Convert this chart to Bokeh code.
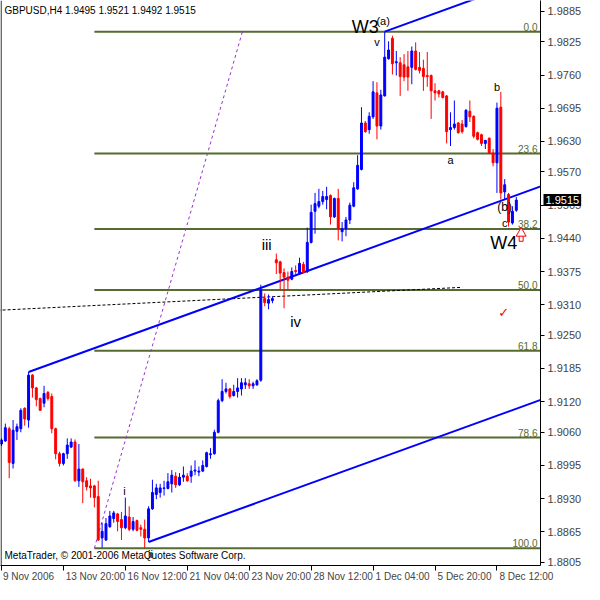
from bokeh.plotting import figure
from bokeh.models import (Range1d, FixedTicker, Label, Span, ColumnDataSource,
                          NumeralTickFormatter, LinearAxis)
from bokeh.core.properties import value
from bokeh.embed import file_html
from bokeh.resources import INLINE

title_text = "GBPUSD,H4  1.9495 1.9521 1.9492 1.9515"
copyright_text = "MetaTrader, \u00a9 2001-2006 MetaQuotes Software Corp."

opens = [
    1.9037, 1.9043, 1.9067, 1.8999, 1.9062, 1.9067, 1.9107, 1.9084, 1.9172, 1.9147,
    1.9126, 1.9117, 1.9138, 1.9130, 1.9067, 1.9018, 1.8999, 1.9018, 1.9031, 1.9041,
    1.8965, 1.8988, 1.8965, 1.8955, 1.8955, 1.8934, 1.8853, 1.8849, 1.8875, 1.8891,
    1.8900, 1.8889, 1.8873, 1.8894, 1.8870, 1.8887, 1.8873, 1.8870, 1.8853, 1.8910,
    1.8938, 1.8942, 1.8950, 1.8950, 1.8959, 1.8974, 1.8957, 1.8972, 1.8974, 1.8974,
    1.8984, 1.8982, 1.8984, 1.8993, 1.9016, 1.9018, 1.9060, 1.9122, 1.9140, 1.9145,
    1.9132, 1.9140, 1.9145, 1.9153, 1.9155, 1.9151, 1.9153, 1.9162, 1.9322, 1.9313,
    1.9318, 1.9398, 1.9394, 1.9373, 1.9364, 1.9360, 1.9377, 1.9372, 1.9389, 1.9375,
    1.9432, 1.9493, 1.9503, 1.9512, 1.9516, 1.9524, 1.9482, 1.9518, 1.9453, 1.9459,
    1.9476, 1.9503, 1.9537, 1.9575, 1.9666, 1.9653, 1.9678, 1.9725, 1.9660, 1.9719,
    1.9792, 1.9832, 1.9784, 1.9784, 1.9780, 1.9776, 1.9775, 1.9807, 1.9775, 1.9773,
    1.9759, 1.9759, 1.9729, 1.9729, 1.9727, 1.9719, 1.9653, 1.9657, 1.9666, 1.9664,
    1.9659, 1.9689, 1.9679, 1.9647, 1.9643, 1.9626, 1.9636, 1.9607, 1.9588, 1.9697,
    1.9531, 1.9526, 1.9470, 1.9495]

highs = [
    1.9048, 1.9077, 1.9071, 1.9084, 1.9077, 1.9107, 1.9109, 1.9178, 1.9174, 1.9149,
    1.9128, 1.9151, 1.9141, 1.9136, 1.9069, 1.9022, 1.9020, 1.9048, 1.9048, 1.9046,
    1.9037, 1.8989, 1.8972, 1.8969, 1.8957, 1.8965, 1.8883, 1.8892, 1.8906, 1.8906,
    1.8902, 1.8904, 1.8932, 1.8915, 1.8894, 1.8889, 1.8879, 1.8889, 1.8915, 1.8967,
    1.8959, 1.8959, 1.8965, 1.8980, 1.8986, 1.8982, 1.8980, 1.8993, 1.8980, 1.8995,
    1.9005, 1.8993, 1.9005, 1.9022, 1.9029, 1.9065, 1.9126, 1.9164, 1.9157, 1.9147,
    1.9153, 1.9166, 1.9166, 1.9166, 1.9164, 1.9159, 1.9164, 1.9349, 1.9332, 1.9330,
    1.9326, 1.9410, 1.9396, 1.9381, 1.9375, 1.9383, 1.9387, 1.9402, 1.9394, 1.9461,
    1.9506, 1.9529, 1.9537, 1.9533, 1.9541, 1.9526, 1.9520, 1.9537, 1.9472, 1.9482,
    1.9510, 1.9550, 1.9603, 1.9697, 1.9670, 1.9687, 1.9748, 1.9746, 1.9731, 1.9845,
    1.9826, 1.9837, 1.9807, 1.9795, 1.9801, 1.9807, 1.9816, 1.9824, 1.9805, 1.9790,
    1.9805, 1.9761, 1.9744, 1.9731, 1.9729, 1.9721, 1.9687, 1.9710, 1.9668, 1.9672,
    1.9693, 1.9710, 1.9681, 1.9649, 1.9645, 1.9632, 1.9638, 1.9615, 1.9706, 1.9727,
    1.9556, 1.9529, 1.9503, 1.9521]

lows = [
    1.9033, 1.9041, 1.8970, 1.8989, 1.9045, 1.9060, 1.9073, 1.9069, 1.9128, 1.9111,
    1.9102, 1.9109, 1.9122, 1.9058, 1.9007, 1.8993, 1.8995, 1.9008, 1.9029, 1.8963,
    1.8953, 1.8921, 1.8946, 1.8932, 1.8913, 1.8847, 1.8834, 1.8847, 1.8873, 1.8883,
    1.8866, 1.8849, 1.8870, 1.8866, 1.8866, 1.8866, 1.8856, 1.8833, 1.8845, 1.8908,
    1.8929, 1.8932, 1.8936, 1.8948, 1.8942, 1.8951, 1.8955, 1.8963, 1.8963, 1.8961,
    1.8976, 1.8974, 1.8982, 1.8991, 1.9008, 1.9016, 1.9058, 1.9119, 1.9136, 1.9126,
    1.9130, 1.9128, 1.9132, 1.9145, 1.9145, 1.9145, 1.9151, 1.9159, 1.9307, 1.9301,
    1.9313, 1.9370, 1.9339, 1.9303, 1.9339, 1.9358, 1.9370, 1.9370, 1.9372, 1.9372,
    1.9430, 1.9449, 1.9499, 1.9506, 1.9497, 1.9467, 1.9480, 1.9436, 1.9434, 1.9444,
    1.9468, 1.9501, 1.9535, 1.9573, 1.9647, 1.9645, 1.9674, 1.9634, 1.9653, 1.9718,
    1.9790, 1.9761, 1.9759, 1.9719, 1.9748, 1.9729, 1.9742, 1.9769, 1.9763, 1.9729,
    1.9737, 1.9674, 1.9710, 1.9716, 1.9714, 1.9626, 1.9621, 1.9653, 1.9645, 1.9645,
    1.9657, 1.9668, 1.9636, 1.9632, 1.9621, 1.9615, 1.9605, 1.9581, 1.9529, 1.9516,
    1.9516, 1.9463, 1.9467, 1.9492]

closes = [
    1.9045, 1.9069, 1.9001, 1.9064, 1.9071, 1.9103, 1.9086, 1.9172, 1.9147, 1.9124,
    1.9103, 1.9136, 1.9126, 1.9067, 1.9018, 1.8999, 1.9018, 1.9035, 1.9041, 1.8965,
    1.8988, 1.8963, 1.8953, 1.8951, 1.8932, 1.8849, 1.8866, 1.8881, 1.8896, 1.8902,
    1.8885, 1.8873, 1.8896, 1.8870, 1.8885, 1.8868, 1.8870, 1.8853, 1.8910, 1.8942,
    1.8951, 1.8951, 1.8951, 1.8963, 1.8976, 1.8957, 1.8972, 1.8976, 1.8965, 1.8984,
    1.8986, 1.8984, 1.8995, 1.9020, 1.9018, 1.9060, 1.9122, 1.9140, 1.9145, 1.9130,
    1.9140, 1.9147, 1.9157, 1.9157, 1.9151, 1.9155, 1.9161, 1.9339, 1.9314, 1.9320,
    1.9322, 1.9392, 1.9372, 1.9364, 1.9358, 1.9375, 1.9375, 1.9391, 1.9373, 1.9432,
    1.9491, 1.9508, 1.9512, 1.9522, 1.9522, 1.9482, 1.9518, 1.9459, 1.9459, 1.9476,
    1.9505, 1.9539, 1.9583, 1.9666, 1.9649, 1.9679, 1.9727, 1.9660, 1.9721, 1.9795,
    1.9809, 1.9782, 1.9786, 1.9757, 1.9756, 1.9756, 1.9807, 1.9771, 1.9769, 1.9757,
    1.9757, 1.9729, 1.9725, 1.9723, 1.9716, 1.9649, 1.9657, 1.9664, 1.9647, 1.9649,
    1.9691, 1.9678, 1.9640, 1.9634, 1.9626, 1.9632, 1.9607, 1.9588, 1.9695, 1.9529,
    1.9545, 1.9472, 1.9493, 1.9515]

time_ticks = [0, 16, 32, 48, 64, 80, 96, 112, 128]
time_labels = ["9 Nov 2006", "13 Nov 20:00", "16 Nov 12:00", "21 Nov 04:00",
               "23 Nov 20:00", "28 Nov 12:00", "1 Dec 04:00", "5 Dec 20:00", "8 Dec 12:00"]
price_ticks = [1.8805, 1.8865, 1.8930, 1.8995, 1.9060, 1.9120, 1.9185, 1.9250, 1.9310,
               1.9375, 1.9440, 1.9505, 1.9570, 1.9630, 1.9695, 1.9760, 1.9825, 1.9885]
last_price = 1.9515

fib_start_bar = 24
fib_high = 1.9845
fib_low = 1.8833
fib_pcts = [0.0, 23.6, 38.2, 50.0, 61.8, 78.6, 100.0]

channel_x0 = [7, 38, 99]
channel_y0 = [1.9178, 1.8845, 1.9845]
channel_slope = 0.000275

fibo_trend_x = [24, 62.25]
fibo_trend_y = [1.8833, 1.9845]

dashed_x = [-1, 119]
dashed_y = [1.9299, 1.9344]

wave_text = ["W3", "(a)", "v", "b", "a", "(b)", "c", "W4", "iii", "iv", "i", "ii"]
wave_x = [94, 98.6, 97, 128, 116, 130, 130, 129.75, 68.5, 76, 31.75, 38.5]
wave_y = [1.9854, 1.9866, 1.9824, 1.9737, 1.9594, 1.9501, 1.9470, 1.9430, 1.9427, 1.9278, 1.8944, 1.8822]
wave_size = ["18px", "11px", "11px", "11px", "11px", "12px", "11px", "18px", "15px", "15px", "11px", "11px"]

arrow_x = [134.25]
arrow_y = [1.9446]
check_x = [129.75]
check_y = [1.9294]

X0, X1 = -0.25, 139.25
Y0, Y1 = 1.8799, 1.9906

BLUE = "#0000FF"
RED = "#FF0000"
OLIVE = "#556B2F"
FONT = "Liberation Sans"

p = figure(width=584, height=584, x_range=Range1d(X0, X1), y_range=Range1d(Y0, Y1),
           output_backend="svg", toolbar_location=None, y_axis_location="right",
           min_border_left=0, min_border_top=0, min_border_right=0, min_border_bottom=0)
p.outline_line_color = None
p.xgrid.visible = False
p.ygrid.visible = False
p.background_fill_color = "white"

# time axis: tick marks on the main axis, labels right of each tick on a 2nd axis
xa = p.xaxis[0]
xa.ticker = FixedTicker(ticks=[], minor_ticks=time_ticks)
xa.major_label_standoff = 0
xa.major_tick_out = 0
xa.major_tick_in = 0
xa.minor_tick_out = 5
xa.minor_tick_in = 0
xa.minor_tick_line_color = "black"
xa.axis_line_color = "black"

frame_px = 540.0
frame_py = 565.0
px_per_bar = frame_px / (X1 - X0)
price_per_px = (Y1 - Y0) / frame_py
label_pos = [t + (2 + 0.5 * 5.0 * len(l)) / px_per_bar for t, l in zip(time_ticks, time_labels)]
xl = LinearAxis(ticker=FixedTicker(ticks=label_pos),
                major_label_overrides={pos: l for pos, l in zip(label_pos, time_labels)},
                major_label_text_font=FONT, major_label_text_font_size="10px",
                major_label_standoff=0, major_tick_out=0, major_tick_in=0,
                minor_tick_out=0, minor_tick_in=0, axis_line_color=None)
p.add_layout(xl, "below")

ya = p.yaxis[0]
ya.ticker = FixedTicker(ticks=price_ticks)
ya.formatter = NumeralTickFormatter(format="0.0000")
ya.major_label_text_font = FONT
ya.major_label_text_font_size = "11px"
ya.major_label_standoff = 3
ya.major_tick_out = 4
ya.major_tick_in = 0
ya.minor_tick_out = 0
ya.minor_tick_in = 0

p.add_layout(Span(location=X0 + 0.15, dimension="height", line_color="black", line_width=1))

# fibonacci levels
fib_prices = [fib_high - pct / 100.0 * (fib_high - fib_low) for pct in fib_pcts]
p.segment(x0=[fib_start_bar] * len(fib_prices), y0=fib_prices, x1=[X1 + 5] * len(fib_prices),
          y1=fib_prices, line_color=OLIVE, line_width=2)
p.text(x=[X1] * len(fib_prices), y=fib_prices, text=["%.1f" % v for v in fib_pcts],
       text_align="right", text_baseline="bottom", x_offset=-3, y_offset=-1,
       text_color=OLIVE, text_font=value(FONT), text_font_size="10px")

# fibo trend (dotted)
p.line(fibo_trend_x, fibo_trend_y, line_color="#9932CC", line_width=1, line_dash="3 3")
# black dashed line
p.line(dashed_x, dashed_y, line_color="black", line_width=1, line_dash="3 2")

# channel
cx1 = X1 + 2
p.segment(x0=channel_x0, y0=channel_y0, x1=[cx1] * 3,
          y1=[y + channel_slope * (cx1 - x) for x, y in zip(channel_x0, channel_y0)],
          line_color=BLUE, line_width=2)

# candles
bars = list(range(len(opens)))
colors = [BLUE if c >= o else RED for o, c in zip(opens, closes)]
src = ColumnDataSource(dict(x=bars, o=opens, h=highs, l=lows, c=closes,
                            top=[max(o, c) for o, c in zip(opens, closes)],
                            bot=[min(o, c) for o, c in zip(opens, closes)],
                            color=colors))
p.segment(x0="x", y0="h", x1="x", y1="l", line_color="color", line_width=1, source=src)
p.vbar(x="x", top="top", bottom="bot", width=0.5, fill_color="color", line_color="color",
       line_width=1, source=src)

# wave labels
p.text(x=wave_x, y=wave_y, text=wave_text, text_font_size=wave_size,
       text_align="center", text_baseline="middle", text_color="black", text_font=value(FONT))

# hollow red up-arrow (stem + head) and red check mark
p.rect(x=arrow_x, y=[v - 3 * price_per_px for v in arrow_y], width=4, height=6,
       width_units="screen", height_units="screen", fill_color="white",
       line_color=RED, line_width=1)
p.scatter(x=arrow_x, y=[v + 2 * price_per_px for v in arrow_y], marker="triangle", size=10,
          fill_color="white", line_color=RED, line_width=1)
p.text(x=check_x, y=check_y, text=["\u2713"], text_font_size="13px",
       text_align="center", text_baseline="middle", text_color=RED, text_font=value("DejaVu Sans"))

# title & copyright
p.add_layout(Label(x=X0, y=Y1, x_offset=4, y_offset=-4, text=title_text, text_align="left",
                   text_baseline="top", text_font=FONT, text_font_size="10px", text_color="black"))
p.add_layout(Label(x=X0, y=Y0, x_offset=4, y_offset=5, text=copyright_text, text_align="left",
                   text_baseline="bottom", text_font=FONT, text_font_size="10px", text_color="black"))

# last price tag on the price scale
p.text(x=[X1], y=[last_price], text=["%.4f" % last_price], x_offset=3,
       text_align="left", text_baseline="middle", text_font=value(FONT),
       text_font_size="11px", text_color="white", background_fill_color="black",
       padding=2, level="overlay")

open("out.html", "w").write(file_html(p, INLINE))
